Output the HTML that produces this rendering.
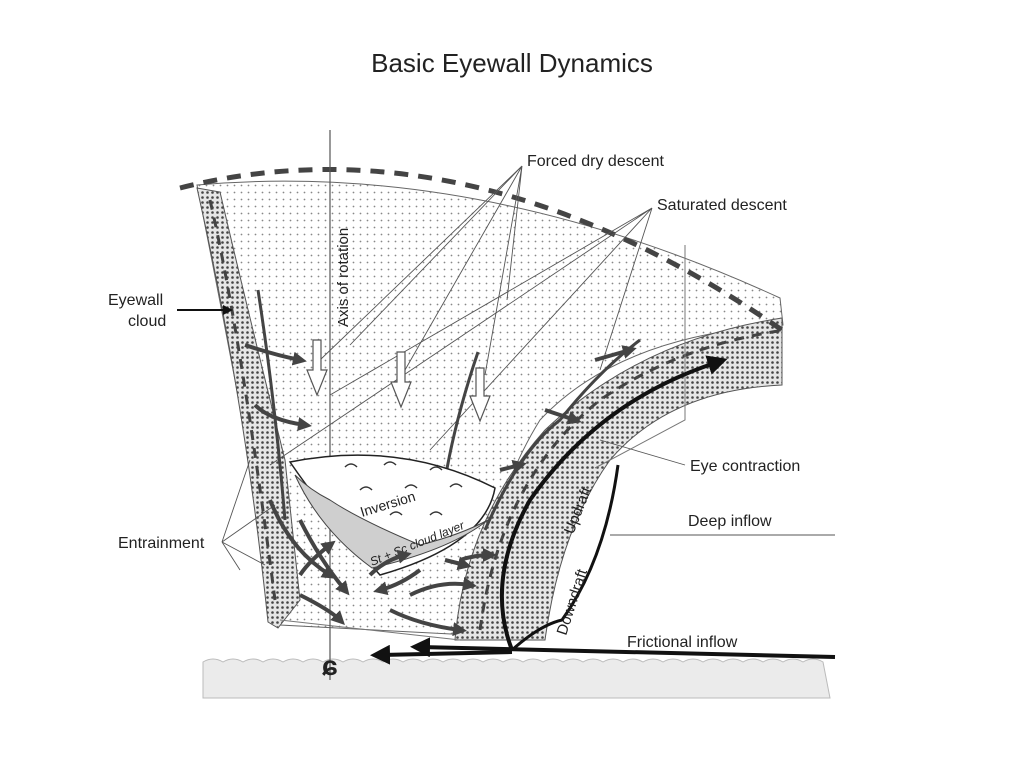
<!DOCTYPE html>
<html><head><style>
body{margin:0;background:#fff;}
svg{display:block;}
text{font-family:"Liberation Sans",sans-serif;fill:#222;}
</style></head><body>
<svg width="1024" height="768" viewBox="0 0 1024 768">
<defs>
<pattern id="lt" width="7" height="7" patternUnits="userSpaceOnUse"><rect width="7" height="7" fill="#fff"/><circle cx="3.5" cy="3.5" r="0.9" fill="#888"/></pattern>
<pattern id="dk" width="5" height="5" patternUnits="userSpaceOnUse"><rect width="5" height="5" fill="#e6e6e6"/><circle cx="2.5" cy="2.5" r="1.3" fill="#444"/></pattern>
<marker id="ah" viewBox="0 0 10 10" refX="5" refY="5" markerWidth="5" markerHeight="5" orient="auto"><path d="M0,0L10,5L0,10Z" fill="#111"/></marker>
<marker id="ag" viewBox="0 0 10 10" refX="5" refY="5" markerWidth="3.5" markerHeight="3.5" orient="auto"><path d="M0,0L10,5L0,10Z" fill="#444"/></marker>
</defs>
<text x="512" y="72" font-size="26" text-anchor="middle">Basic Eyewall Dynamics</text>

<!-- ground -->
<path d="M203,662 q10,-6 20,0 q10,-6 20,0 q10,-6 20,0 q10,-6 20,0 q10,-6 20,0 q10,-6 20,0 q10,-6 20,0 q10,-6 20,0 q10,-6 20,0 q10,-6 20,0 q10,-6 20,0 q10,-6 20,0 q10,-6 20,0 q10,-6 20,0 q10,-6 20,0 q10,-6 20,0 q10,-6 20,0 q10,-6 20,0 q10,-6 20,0 q10,-6 20,0 q10,-6 20,0 q10,-6 20,0 q10,-6 20,0 q10,-6 20,0 q10,-6 20,0 q10,-6 20,0 q10,-6 20,0 q10,-6 20,0 q10,-6 20,0 q10,-6 20,0 q10,-6 20,0 L830,698 L203,698Z" fill="#ebebeb" stroke="#bbb"/>

<!-- light dotted region -->
<path d="M197,185 Q480,160 780,298 L783,325 Q620,335 540,420 Q490,500 470,635 L280,625 Q240,400 197,185Z" fill="url(#lt)" stroke="#666" stroke-width="1"/>
<path d="M197,188 L220,192 Q250,320 285,460 L300,600 L278,628 L268,622 Q245,400 197,188Z" fill="url(#dk)" stroke="#555" stroke-width="1"/>
<path d="M455,640 Q465,520 545,430 Q640,340 782,318 L782,385 Q670,390 610,460 Q560,530 545,640 Z" fill="url(#dk)" stroke="#555" stroke-width="1"/>
<path d="M180,188 Q470,115 782,330" fill="none" stroke="#444" stroke-width="5" stroke-dasharray="14,10"/>
<path d="M210,200 Q240,330 275,600" fill="none" stroke="#444" stroke-width="3" stroke-dasharray="10,8"/>
<path d="M480,630 Q500,480 600,400 Q680,345 785,330" fill="none" stroke="#444" stroke-width="3" stroke-dasharray="10,8"/>
<path d="M685,245 L685,420 L595,468 M280,620 L460,640" fill="none" stroke="#777" stroke-width="1"/>
<line x1="330" y1="130" x2="330" y2="680" stroke="#555" stroke-width="1.2"/>
<text transform="translate(348,327) rotate(-90)" font-size="15">Axis of rotation</text>

<g stroke="#555" stroke-width="0.9" fill="none">
<path d="M522,166 L320,360 M522,166 L405,370 M522,166 L485,375 M522,166 L507,300 M522,166 L350,345"/>
<path d="M652,208 L330,395 M652,208 L430,450 M652,208 L600,370 M652,208 L270,465"/>
<path d="M222,542 L275,505 M222,542 L265,565 M222,542 L240,570 M222,542 L250,460"/>
<path d="M685,465 L600,440 M835,535 L610,535"/>
</g>
<g fill="#fff" stroke="#555" stroke-width="1.2">
<path d="M313,340 h8 v30 h6 l-10,25 l-10,-25 h6z"/>
<path d="M397,352 h8 v30 h6 l-10,25 l-10,-25 h6z"/>
<path d="M476,368 h8 v28 h6 l-10,25 l-10,-25 h6z"/>
</g>
<path d="M258,290 Q275,400 285,520" stroke="#444" stroke-width="3" fill="none"/>
<path d="M478,352 Q455,420 445,480 Q435,510 430,515" stroke="#444" stroke-width="3" fill="none"/>

<path d="M290,462 Q400,440 495,488 Q485,545 380,575 Q330,520 290,462Z" fill="#fff" stroke="#222" stroke-width="1.5"/>
<path d="M295,475 Q320,530 372,568 Q450,550 488,520 Q460,535 420,545 Q360,520 330,500 Q310,490 295,475Z" fill="#cfcfcf" stroke="#444"/>
<g fill="none" stroke="#333" stroke-width="1.5">
<path d="M345,467 q6,-6 12,0 M384,465 q6,-6 12,0 M430,470 q6,-6 12,0 M360,490 q6,-6 12,0 M405,488 q6,-6 12,0 M450,487 q6,-6 12,0 M430,515 q6,-6 12,0 M390,515 q6,-6 12,0"/>
</g>
<text transform="translate(362,517) rotate(-17)" font-size="14">Inversion</text>
<text transform="translate(372,566) rotate(-22)" font-size="12" font-style="italic">St + Sc cloud layer</text>

<g stroke="#444" stroke-width="4" fill="none" marker-end="url(#ag)">
<path d="M245,345 Q275,355 300,360"/>
<path d="M255,405 Q270,420 305,425"/>
<path d="M270,500 Q290,550 330,575"/>
<path d="M300,520 Q320,560 345,590"/>
<path d="M300,595 Q330,610 340,620"/>
<path d="M300,575 Q310,560 330,545"/>
<path d="M390,610 Q420,625 460,630"/>
<path d="M410,595 Q440,580 470,585"/>
<path d="M460,560 Q475,555 490,555"/>
<path d="M370,575 Q385,560 405,555"/>
<path d="M420,570 Q400,585 380,590"/>
<path d="M545,410 L575,420"/>
<path d="M595,360 L630,350"/>
<path d="M500,470 L520,465"/>
<path d="M445,560 L465,565"/>
</g>
<path d="M485,530 Q520,450 560,420 Q600,370 640,340" stroke="#444" stroke-width="3" fill="none"/>

<!-- updraft / downdraft -->
<path d="M512,650 Q485,580 530,500 Q600,400 718,362" stroke="#111" stroke-width="4" fill="none" marker-end="url(#ah)"/>
<path d="M512,650 Q540,625 562,620 Q605,560 618,465" stroke="#111" stroke-width="3" fill="none"/>
<text transform="translate(573,535) rotate(-68)" font-size="15">Updraft</text>
<text transform="translate(566,636) rotate(-72)" font-size="15">Downdraft</text>

<path d="M835,657 L420,647" stroke="#111" stroke-width="4" fill="none" marker-end="url(#ah)"/>
<path d="M512,652 L380,655" stroke="#111" stroke-width="4" fill="none" marker-end="url(#ah)"/>
<text x="322" y="675" font-size="28" font-weight="bold" fill="#111">ɕ</text>

<text x="527" y="166" font-size="16">Forced dry descent</text>
<text x="657" y="210" font-size="16">Saturated descent</text>
<text x="108" y="305" font-size="16">Eyewall</text>
<text x="128" y="326" font-size="16">cloud</text>
<line x1="177" y1="310" x2="228" y2="310" stroke="#111" stroke-width="2" marker-end="url(#ah)"/>
<text x="690" y="471" font-size="16">Eye contraction</text>
<text x="688" y="526" font-size="16">Deep inflow</text>
<text x="118" y="548" font-size="16">Entrainment</text>
<text x="627" y="647" font-size="16">Frictional inflow</text>
</svg>
</body></html>
